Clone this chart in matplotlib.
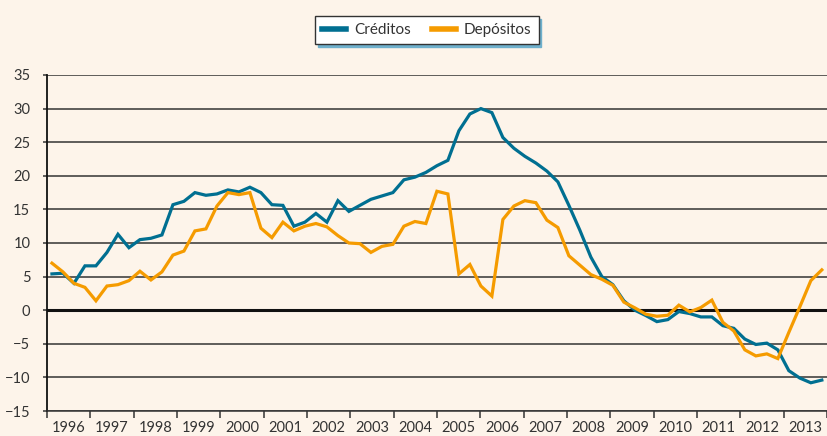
import matplotlib
matplotlib.use("Agg")
import matplotlib.pyplot as plt
import numpy as np

plt.rcParams['font.family'] = ['Lato', 'DejaVu Sans']

# tasas de variación interanual, trimestral, 1996 T1 - 2013 T3
creditos = [5.4, 5.5, 4.0, 6.6, 6.6, 8.6, 11.3, 9.3, 10.5, 10.7,
            11.2, 15.7, 16.2, 17.5, 17.1, 17.3, 17.9, 17.6, 18.3, 17.5,
            15.7, 15.6, 12.5, 13.1, 14.4, 13.1, 16.3, 14.7, 15.6, 16.5,
            17.0, 17.5, 19.4, 19.8, 20.5, 21.5, 22.3, 26.7, 29.2, 30.0,
            29.4, 25.7, 24.1, 22.9, 21.9, 20.7, 19.1, 15.6, 11.9, 7.9,
            5.0, 3.8, 1.4, 0.0, -0.8, -1.7, -1.4, -0.2, -0.5, -1.0,
            -1.0, -2.3, -2.7, -4.3, -5.1, -4.9, -5.9, -9.0, -10.1, -10.8,
            -10.4]
depositos = [7.0, 5.7, 4.0, 3.4, 1.4, 3.6, 3.8, 4.4, 5.8, 4.5,
             5.7, 8.2, 8.8, 11.8, 12.1, 15.5, 17.5, 17.2, 17.5, 12.2,
             10.8, 13.1, 11.8, 12.5, 12.9, 12.4, 11.1, 10.0, 9.9, 8.6,
             9.5, 9.8, 12.5, 13.2, 12.9, 17.7, 17.3, 5.4, 6.8, 3.6,
             2.1, 13.5, 15.5, 16.3, 16.0, 13.4, 12.3, 8.1, 6.7, 5.3,
             4.6, 3.7, 1.2, 0.35, -0.6, -0.9, -0.75, 0.75, -0.25, 0.4,
             1.5, -1.8, -3.1, -5.9, -6.8, -6.5, -7.2, -3.3, 0.5, 4.4,
             6.0]
years = list(range(1996, 2014))
yticks = list(range(-15, 40, 5))

bg = '#fdf4ea'
azul = '#006f91'
naranja = '#f59b00'
gris = '#333333'

x = np.arange(len(creditos))
year_len = 3.94      # trimestres por año en el eje
x_start = -0.45

fig = plt.figure(figsize=(8.27, 4.36), dpi=100, facecolor=bg)
ax = fig.add_axes([47 / 827, 1 - 411 / 436, 1 - 47 / 827, (411 - 75) / 436])
ax.set_facecolor(bg)

for v in yticks:
    if v == 0:
        continue
    ax.axhline(v, color=gris, lw=1.1, zorder=1)
ax.axhline(0, color='#111111', lw=2.2, zorder=2)

ax.plot(x, creditos, color=azul, lw=2.3, label='Créditos', zorder=3,
        solid_joinstyle='miter')
ax.plot(x, depositos, color=naranja, lw=2.3, label='Depósitos', zorder=4,
        solid_joinstyle='miter')

ax.set_ylim(-15, 35)
ax.set_xlim(x_start, (827 - 52) / 11.12)
ax.set_yticks(yticks)
ax.tick_params(axis='y', length=3, width=1.1, color=gris, pad=9,
               labelsize=10.5, labelcolor=gris)

bounds = [x_start + year_len * k for k in range(len(years) + 1)]
ax.set_xticks(bounds)
ax.set_xticklabels([])
ax.set_xticks([b + year_len / 2 for b in bounds[:-1]], minor=True)
ax.set_xticklabels([str(y) for y in years], minor=True)
ax.tick_params(axis='x', which='major', length=5, width=1.1, color=gris)
ax.tick_params(axis='x', which='minor', length=0, pad=7.5,
               labelsize=10.5, labelcolor=gris)

for s in ('top', 'right'):
    ax.spines[s].set_visible(False)
ax.spines['left'].set_color('#111111')
ax.spines['left'].set_linewidth(1.3)
ax.spines['bottom'].set_color(gris)
ax.spines['bottom'].set_linewidth(1.1)

leg = fig.legend(loc='center', bbox_to_anchor=(0.516, 0.931), ncol=2,
                 frameon=True, fancybox=False, fontsize=11,
                 handlelength=1.6, handletextpad=0.5, columnspacing=1.4,
                 borderpad=0.45, labelcolor=gris,
                 shadow={'color': '#6fb0cc', 'alpha': 1})
leg.get_frame().set_edgecolor(gris)
leg.get_frame().set_linewidth(1.0)
leg.get_frame().set_facecolor('white')
for h in leg.legend_handles:
    h.set_linewidth(4)

fig.savefig('out.png', dpi=100, facecolor=bg)
